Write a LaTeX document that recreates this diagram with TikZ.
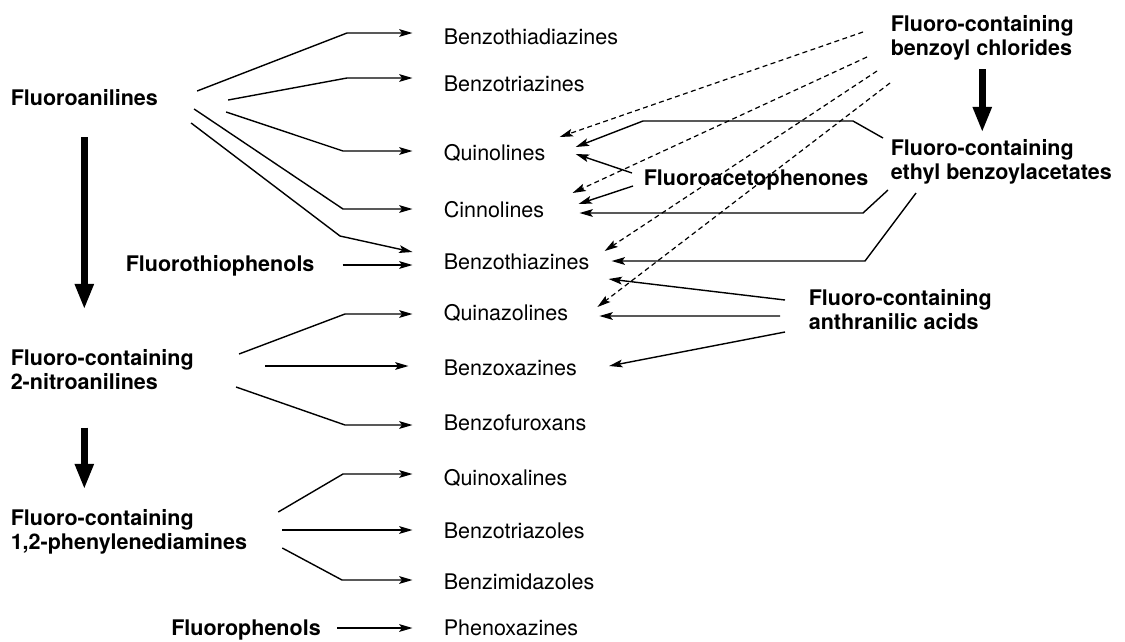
\documentclass[tikz,border=0pt]{standalone}
\usepackage{fontspec}
\setmainfont{TeX Gyre Heros}
\usetikzlibrary{arrows.meta,calc}
\begin{document}
\fontsize{15.3}{16.6}\selectfont
\begin{tikzpicture}[x=0.025cm,y=-0.025cm,
  lab/.style={inner sep=0pt,anchor=west,text height=0.72em,text depth=0pt},
  srcl/.style={lab,font=\bfseries},
  twoline/.style={inner sep=0pt,anchor=west,align=left,font=\bfseries},
  conn/.style={-{Stealth[length=9.5pt,width=5.5pt,inset=2pt]},line width=1pt},
  dconn/.style={conn,line width=0.85pt,dash pattern=on 3.5pt off 2.5pt},
  bigarrow/.style={-{Triangle[length=0.64cm,width=0.44cm]},line width=4.8pt}]
\useasboundingbox (0,0) rectangle (1125,641);
% starting materials
\node[srcl] (fa) at (10.5,98) {Fluoroanilines};
\node[srcl] (fth) at (125.5,264) {Fluorothiophenols};
\node[srcl,anchor=east] (fph) at (321,628) {Fluorophenols};
\node[twoline] (nit) at (10.5,369.5) {Fluoro-containing\\2-nitroanilines};
\node[twoline] (phd) at (10.5,531.7) {Fluoro-containing\\1,2-phenylenediamines};
\node[twoline] (bzc) at (890.5,38) {Fluoro-containing\\benzoyl chlorides};
\node[twoline] (ebz) at (890.5,162) {Fluoro-containing\\ethyl benzoylacetates};
\node[twoline] (ant) at (808.5,309.5) {Fluoro-containing\\anthranilic acids};
\node[srcl] (fac) at (643.5,178) {Fluoroacetophenones};
% heterocycles
\node[lab] (btd) at (443.5,37) {Benzothiadiazines};
\node[lab] (btr) at (443.5,84) {Benzotriazines};
\node[lab] (qui) at (443.5,153) {Quinolines};
\node[lab] (cin) at (443.5,210) {Cinnolines};
\node[lab] (bth) at (443.5,262) {Benzothiazines};
\node[lab] (qaz) at (443.5,313) {Quinazolines};
\node[lab] (box) at (443.5,368) {Benzoxazines};
\node[lab] (bfu) at (443.5,423) {Benzofuroxans};
\node[lab] (qox) at (443.5,478) {Quinoxalines};
\node[lab] (btz) at (443.5,531) {Benzotriazoles};
\node[lab] (bim) at (443.5,582) {Benzimidazoles};
\node[lab] (phx) at (443.5,628) {Phenoxazines};
% left fans
\draw[conn] ($(fa.east)+(39,-7)$) -- (347,33) -- ($(btd.west)+(-31,-4)$);
\draw[conn] ($(fa.east)+(70,2)$) -- (347,78) -- ($(btr.west)+(-31,-6)$);
\draw[conn] ($(fa.east)+(68,14)$) -- (343,151) -- ($(qui.west)+(-31,-2)$);
\draw[conn] ($(fa.east)+(36,11)$) -- (343,209) -- ($(cin.west)+(-31,-1)$);
\draw[conn] ($(fa.east)+(33,25)$) -- (340,236) -- ($(bth.west)+(-31,-10)$);
\draw[conn] ($(fth.east)+(28,1)$) -- ($(bth.west)+(-31,3)$);
\draw[conn] ($(nit.east)+(45,-15.5)$) -- (345,314) -- ($(qaz.west)+(-31,1)$);
\draw[conn] ($(nit.east)+(71,-3.5)$) -- ($(box.west)+(-35,-2)$);
\draw[conn] ($(nit.east)+(42,17.5)$) -- (345,425) -- ($(bfu.west)+(-31,2)$);
\draw[conn] ($(phd.east)+(31,-19.7)$) -- (343,474) -- ($(qox.west)+(-31,-4)$);
\draw[conn] ($(phd.east)+(35,-1.7)$) -- ($(btz.west)+(-31,-1)$);
\draw[conn] ($(phd.east)+(35,16.3)$) -- (342,580) -- ($(bim.west)+(-31,-2)$);
\draw[conn] ($(fph.east)+(16,0)$) -- ($(phx.west)+(-31,0)$);
% right side
\draw[dconn] ($(bzc.west)+(-27.5,-6)$) -- ($(qui.east)+(14,-16)$);
\draw[dconn] ($(bzc.west)+(-23.5,19)$) -- ($(cin.east)+(28,-17)$);
\draw[dconn] ($(bzc.west)+(-13.5,33)$) -- ($(bth.east)+(15,-11)$);
\draw[dconn] ($(bzc.west)+(-0.5,45)$) -- ($(qaz.east)+(29,-6)$);
\draw[conn] ($(ebz.west)+(-7.5,-24)$) -- (853,121) -- (643,121) -- ($(qui.east)+(30,-6)$);
\draw[conn] ($(ebz.west)+(-2.5,28)$) -- (863,213) -- ($(cin.east)+(35,3)$);
\draw[conn] ($(ebz.west)+(25.5,31)$) -- (865,261) -- ($(bth.east)+(22,-1)$);
\draw[conn] ($(fac.west)+(-11.5,-5)$) -- ($(qui.east)+(30,1)$);
\draw[conn] ($(fac.west)+(-10.5,8)$) -- ($(cin.east)+(34,-6)$);
\draw[conn] ($(ant.west)+(-23.5,-9.5)$) -- ($(bth.east)+(19,17)$);
\draw[conn] ($(ant.west)+(-28.5,6.5)$) -- ($(qaz.east)+(31,3)$);
\draw[conn] ($(ant.west)+(-23.5,22.5)$) -- ($(box.east)+(32,-2)$);
% thick arrows
\draw[bigarrow,shorten <=0.78cm,shorten >=1cm] (fa.south) -- (fa.south |- nit.north);
\draw[bigarrow,shorten <=0.95cm,shorten >=0.5cm] (fa.south |- nit.south) -- (fa.south |- phd.north);
\draw[bigarrow,shorten <=0.22cm,shorten >=0.18cm] (bzc.south) -- (bzc.south |- ebz.north);
\end{tikzpicture}
\end{document}
